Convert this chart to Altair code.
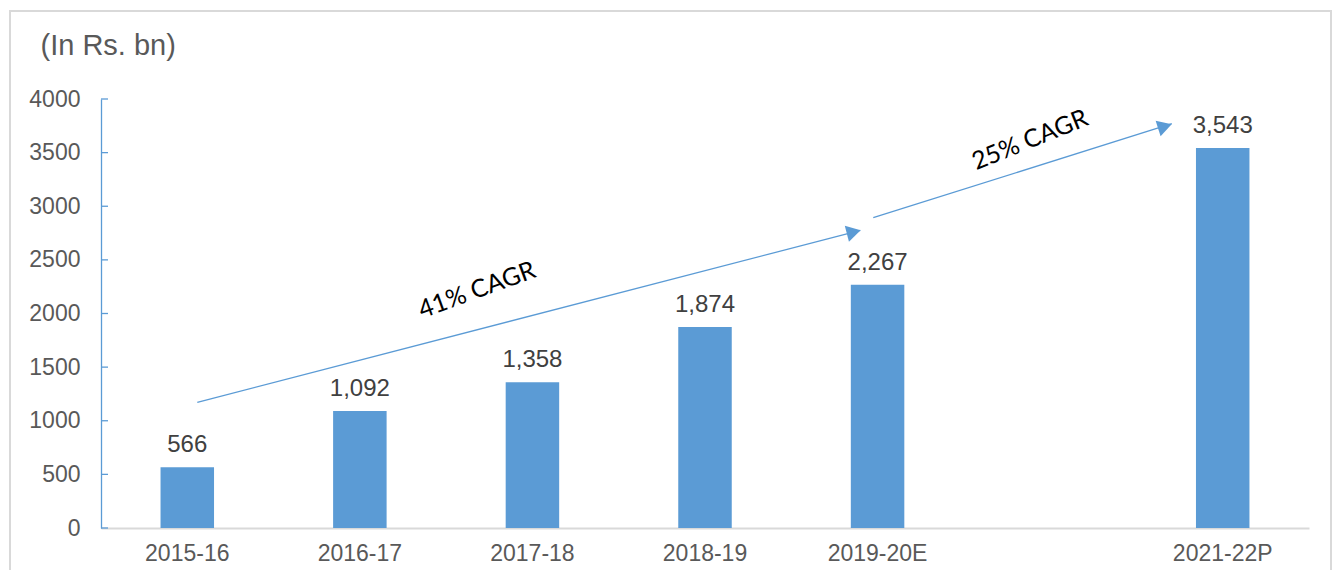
import altair as alt
import pandas as pd

# ---- data ----
categories = ["2015-16", "2016-17", "2017-18", "2018-19", "2019-20E", "2021-22P"]
values = [566, 1092, 1358, 1874, 2267, 3543]
axis_slots = ["2015-16", "2016-17", "2017-18", "2018-19", "2019-20E", " ", "2021-22P"]
y_ticks = [0, 500, 1000, 1500, 2000, 2500, 3000, 3500, 4000]
unit_title = "(In Rs. bn)"

# CAGR arrows, x in category-slot units (0 = first slot centre)
arrow_x0 = [0.058, 3.975]
arrow_y0 = [1172, 2893]
arrow_x1 = [3.90, 5.705]
arrow_y1 = [2775, 3770]
head_x = [3.862, 5.665]
head_y = [2760, 3745]
head_angle = [345.4, 342.5]
cagr_text = ["41% CAGR", "25% CAGR"]
cagr_x = [1.679, 4.883]
cagr_y = [2219, 3618]
cagr_angle = [340, 338]

BLUE = "#5b9bd5"
GREY_TXT = "#595959"
FONT = "Liberation Sans"

bars_df = pd.DataFrame({"cat": categories, "value": values})
ticks_df = pd.DataFrame({"t": y_ticks})
arrows_df = pd.DataFrame({"x0": arrow_x0, "y0": arrow_y0, "x1": arrow_x1, "y1": arrow_y1})
heads_df = pd.DataFrame({"hx": head_x, "hy": head_y, "ang": head_angle})
cagr_df = pd.DataFrame({"txt": cagr_text, "cx": cagr_x, "cy": cagr_y, "ang": cagr_angle})
frame_df = pd.DataFrame({"k": [0]})

yscale = alt.Scale(domain=[0, 4000], nice=False)
xq = alt.Scale(domain=[-0.5, 6.5], nice=False, zero=False)
xband_scale = alt.Scale(domain=axis_slots, paddingInner=0.69, paddingOuter=0.345)

bars = alt.Chart(bars_df).mark_bar(color=BLUE).encode(
    x=alt.X(
        "cat:N", scale=xband_scale, sort=axis_slots,
        axis=alt.Axis(
            title=None, labelAngle=0, ticks=False, domainColor="#d9d9d9", domainWidth=2,
            labelFont=FONT, labelFontSize=23, labelColor=GREY_TXT, labelPadding=14, grid=False,
        ),
    ),
    y=alt.Y(
        "value:Q", scale=yscale,
        axis=alt.Axis(
            title=unit_title, titleAngle=0, titleAlign="left", titleBaseline="alphabetic",
            titleX=-61, titleY=-45, titleFont=FONT, titleFontSize=29, titleFontWeight="normal",
            titleColor=GREY_TXT,
            values=y_ticks, format="d", ticks=False, domainColor=BLUE, domainWidth=1.3,
            labelFont=FONT, labelFontSize=23, labelColor=GREY_TXT, labelPadding=21, grid=False,
        ),
    ),
)

labels = alt.Chart(bars_df).mark_text(
    font=FONT, fontSize=24, color="#404040", baseline="alphabetic", dy=-15
).encode(
    x=alt.X("cat:N", scale=xband_scale, sort=axis_slots, axis=None),
    y=alt.Y("value:Q", scale=yscale),
    text=alt.Text("value:Q", format=","),
)

ticks = alt.Chart(ticks_df).mark_rule(color=BLUE, strokeWidth=1.3).encode(
    y=alt.Y("t:Q", scale=yscale),
    x=alt.value(0),
    x2=alt.value(7),
)

arrows = alt.Chart(arrows_df).mark_rule(color=BLUE, strokeWidth=1.3).encode(
    x=alt.X("x0:Q", scale=xq, axis=None),
    x2="x1:Q",
    y=alt.Y("y0:Q", scale=yscale),
    y2="y1:Q",
)

heads = alt.Chart(heads_df).mark_point(
    shape="triangle-right", filled=True, color=BLUE, opacity=1, size=270
).encode(
    x=alt.X("hx:Q", scale=xq, axis=None),
    y=alt.Y("hy:Q", scale=yscale),
    angle=alt.Angle("ang:Q", scale=None),
)

cagr = alt.Chart(cagr_df).mark_text(
    font="Lato", fontSize=25, color="#000000", align="center", baseline="middle"
).encode(
    x=alt.X("cx:Q", scale=xq, axis=None),
    y=alt.Y("cy:Q", scale=yscale),
    text="txt:N",
    angle=alt.Angle("ang:Q", scale=None),
)

frame = alt.Chart(frame_df).mark_rect(
    fill=None, stroke="#d9d9d9", strokeWidth=2
).encode(
    x=alt.value(-91), x2=alt.value(1230), y=alt.value(-88), y2=alt.value(520)
)

chart = (
    alt.layer(frame, bars, labels, ticks, arrows, heads, cagr)
    .resolve_scale(x="independent")
    .properties(
        width=1208,
        height=429,
        autosize=alt.AutoSizeParams(type="none"),
        padding={"left": 93, "top": 91, "right": 24, "bottom": 42},
        background="white",
    )
    .configure_view(stroke=None)
)

chart.save("out.html", embed_options={"renderer": "svg", "actions": False})
